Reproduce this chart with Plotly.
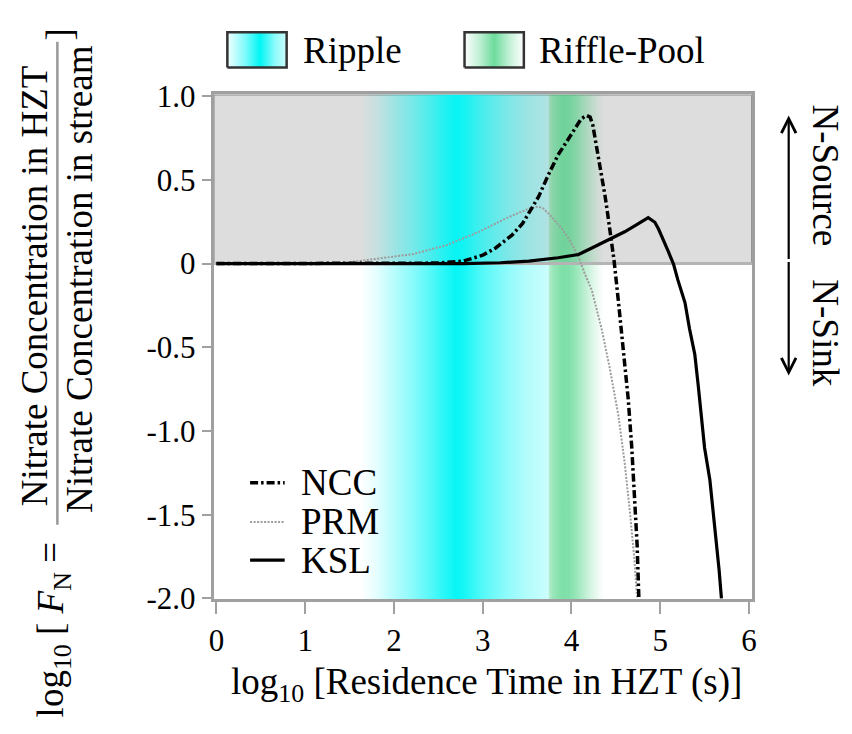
import plotly.graph_objects as go

# ---------------- data ----------------
NCC_X = [0.0, 0.5, 1.0, 1.5, 2.0, 2.5, 2.78, 2.9, 3.0, 3.15, 3.33, 3.45, 3.52, 3.63, 3.74, 3.85,
         3.96, 4.05, 4.11, 4.17, 4.21, 4.24, 4.27, 4.31, 4.34, 4.38, 4.41, 4.45, 4.48, 4.53,
         4.585, 4.64, 4.68, 4.71, 4.74, 4.76]
NCC_Y = [0.0, 0.0, 0.0, 0.0, 0.0, 0.003, 0.015, 0.035, 0.05, 0.095, 0.17, 0.24, 0.30, 0.40, 0.53, 0.65,
         0.74, 0.82, 0.865, 0.885, 0.875, 0.83, 0.74, 0.62, 0.53, 0.40, 0.29, 0.14, 0.02, -0.23,
         -0.52, -0.81, -1.10, -1.39, -1.68, -2.0]

PRM_X = [0.0, 1.0, 1.5, 1.85, 2.22, 2.59, 2.96, 3.26, 3.44, 3.55, 3.63, 3.68, 3.74, 3.89, 3.98,
         4.08, 4.15, 4.23, 4.34, 4.43, 4.53, 4.60, 4.66, 4.71, 4.74]
PRM_Y = [0.0, 0.0, 0.008, 0.03, 0.057, 0.11, 0.19, 0.27, 0.31, 0.335, 0.34, 0.33, 0.30, 0.21, 0.14,
         0.04, -0.06, -0.16, -0.39, -0.62, -0.91, -1.19, -1.49, -1.77, -2.0]

KSL_X = [0.0, 1.0, 2.0, 2.78, 3.2, 3.52, 3.85, 4.08, 4.23, 4.33, 4.45, 4.60, 4.75, 4.865, 4.94,
         4.98, 5.09, 5.15, 5.20, 5.28, 5.33, 5.39, 5.43, 5.465, 5.50, 5.56, 5.60, 5.634, 5.664, 5.69]
KSL_Y = [0.0, 0.0, 0.0, 0.0, 0.005, 0.015, 0.035, 0.054, 0.093, 0.12, 0.15, 0.19, 0.237, 0.275, 0.247,
         0.208, 0.074, -0.003, -0.099, -0.234, -0.388, -0.542, -0.735, -0.908, -1.10, -1.293, -1.485,
         -1.677, -1.831, -2.0]

SERIES_NAMES = ["NCC", "PRM", "KSL"]

# shaded residence-time bands (position -> colour strength)
RIPPLE_X = [1.63, 1.8, 2.0, 2.2, 2.4, 2.55, 2.7, 2.8, 2.95, 3.1, 3.3, 3.5, 3.745]
RIPPLE_A = [0.0, 0.1, 0.28, 0.45, 0.65, 0.82, 0.97, 0.9, 0.72, 0.58, 0.42, 0.3, 0.2]
RIFFLE_X = [3.745, 3.8, 3.9, 3.97, 4.05, 4.15, 4.25, 4.36]
RIFFLE_A = [0.35, 0.5, 0.62, 0.6, 0.5, 0.32, 0.15, 0.0]
BAND_NAMES = ["Ripple", "Riffle-Pool"]

X_TICKS = [0, 1, 2, 3, 4, 5, 6]
Y_TICKS = [1.0, 0.5, 0.0, -0.5, -1.0, -1.5, -2.0]
Y_TICK_TEXT = ["1.0", "0.5", "0", "-0.5", "-1.0", "-1.5", "-2.0"]
X_RANGE = [-0.033, 6.036]
Y_RANGE = [-2.006, 1.011]

# ---------------- style / layout ----------------
W, H = 852, 734
PL, PR, PT, PB = 211, 756, 83, 611
FONT = "Liberation Serif"
CYAN = (0, 245, 245)
GREEN = (46, 204, 113)
AX = "#a0a0a0"


def pxx(x):
    return x / W


def pyy(y):
    return 1 - y / H


def rgba(c, a):
    return "rgba(%d,%d,%d,%.3f)" % (c[0], c[1], c[2], a)


def scale(xs, al, c):
    x0, x1 = xs[0], xs[-1]
    return [[(x - x0) / (x1 - x0), rgba(c, a)] for x, a in zip(xs, al)]


fig = go.Figure()

# bands
for xs, al, c in [(RIPPLE_X, RIPPLE_A, CYAN), (RIFFLE_X, RIFFLE_A, GREEN)]:
    fig.add_trace(go.Scatter(
        x=[xs[0], xs[-1], xs[-1], xs[0], xs[0]],
        y=[Y_RANGE[0], Y_RANGE[0], Y_RANGE[1], Y_RANGE[1], Y_RANGE[0]],
        mode="lines", line=dict(width=0), fill="toself",
        fillgradient=dict(type="horizontal", colorscale=scale(xs, al, c)),
        hoverinfo="skip", showlegend=False))

# zero line
fig.add_trace(go.Scatter(x=X_RANGE, y=[0, 0], mode="lines",
                         line=dict(color="#b4b4b4", width=3),
                         hoverinfo="skip", showlegend=False))

STYLES = {
    "NCC": dict(color="black", width=3.5, dash="8px,3px,2.5px,3px"),
    "PRM": dict(color="#9c9c9c", width=2, dash="2px,1.5px"),
    "KSL": dict(color="black", width=3.2),
}
for name, xs, ys in [("PRM", PRM_X, PRM_Y), ("NCC", NCC_X, NCC_Y), ("KSL", KSL_X, KSL_Y)]:
    fig.add_trace(go.Scatter(x=xs, y=ys, mode="lines", name=name,
                             line=STYLES[name], showlegend=False))

# ----- overlay pixel subplot for legends -----
LEG_BOX = {"Ripple": (225, 285), "Riffle-Pool": (465, 525)}
BOX_T, BOX_B = 18, 55
LEG_SCALES = {
    "Ripple": [[0, rgba(CYAN, 0.05)], [0.3, rgba(CYAN, 0.5)], [0.55, rgba(CYAN, 1)],
               [0.8, rgba(CYAN, 0.45)], [1, rgba(CYAN, 0.2)]],
    "Riffle-Pool": [[0, rgba(GREEN, 0.0)], [0.25, rgba(GREEN, 0.3)], [0.5, rgba(GREEN, 0.7)],
                    [0.75, rgba(GREEN, 0.3)], [1, rgba(GREEN, 0.0)]],
}
TEXT_X = {"Ripple": 300, "Riffle-Pool": 538}
for nm in BAND_NAMES:
    x0, x1 = LEG_BOX[nm]
    fig.add_trace(go.Scatter(
        x=[x0, x1, x1, x0, x0], y=[BOX_B, BOX_B, BOX_T, BOX_T, BOX_B],
        mode="lines", line=dict(color="#333333", width=2.5), fill="toself",
        fillgradient=dict(type="horizontal", colorscale=LEG_SCALES[nm]),
        xaxis="x2", yaxis="y2", hoverinfo="skip", showlegend=False))

LEG_Y = {"NCC": 489, "PRM": 530, "KSL": 570}
for nm in SERIES_NAMES:
    fig.add_trace(go.Scatter(x=[248, 283], y=[LEG_Y[nm], LEG_Y[nm]], mode="lines",
                             line=STYLES[nm], xaxis="x2", yaxis="y2",
                             hoverinfo="skip", showlegend=False))

ann = []
f37 = dict(family=FONT, size=37, color="black")
for nm in BAND_NAMES:
    ann.append(dict(x=pxx(TEXT_X[nm]), y=pyy(37), xref="paper", yref="paper",
                    text=nm, showarrow=False, xanchor="left", yanchor="middle", font=f37))
for nm in SERIES_NAMES:
    ann.append(dict(x=pxx(297), y=pyy(LEG_Y[nm]), xref="paper", yref="paper",
                    text=nm, showarrow=False, xanchor="left", yanchor="middle", font=f37))

# x title
ann.append(dict(x=pxx(487), y=pyy(700), xref="paper", yref="paper",
                text="log<sub>10</sub> [Residence Time in HZT (s)]",
                showarrow=False, xanchor="center", yanchor="middle", font=f37))
# y title pieces
ann.append(dict(x=pxx(50), y=pyy(643), xref="paper", yref="paper", textangle=-90,
                text="log<sub>10</sub> [ <i>F</i><sub>N</sub> =",
                showarrow=False, xanchor="center", yanchor="middle", font=f37))
ann.append(dict(x=pxx(30), y=pyy(283), xref="paper", yref="paper", textangle=-90,
                text="Nitrate Concentration in HZT",
                showarrow=False, xanchor="center", yanchor="middle", font=f37))
ann.append(dict(x=pxx(76), y=pyy(276), xref="paper", yref="paper", textangle=-90,
                text="Nitrate Concentration in stream",
                showarrow=False, xanchor="center", yanchor="middle", font=f37))
ann.append(dict(x=pxx(55), y=pyy(20), xref="paper", yref="paper", textangle=-90,
                text="]", showarrow=False, xanchor="center", yanchor="middle", font=f37))
# right side
ann.append(dict(x=pxx(830), y=pyy(168), xref="paper", yref="paper", textangle=90,
                text="N-Source", showarrow=False, xanchor="center", yanchor="middle", font=f37))
ann.append(dict(x=pxx(830), y=pyy(332), xref="paper", yref="paper", textangle=90,
                text="N-Sink", showarrow=False, xanchor="center", yanchor="middle", font=f37))
ann.append(dict(x=pxx(793), y=pyy(105), xref="paper", yref="paper", text="",
                showarrow=True, ax=0, ay=145, arrowhead=5, arrowsize=1.3,
                arrowwidth=2.2, arrowcolor="black"))
ann.append(dict(x=pxx(793), y=pyy(377), xref="paper", yref="paper", text="",
                showarrow=True, ax=0, ay=-115, arrowhead=5, arrowsize=1.3,
                arrowwidth=2.2, arrowcolor="black"))

shapes = [
    dict(type="rect", xref="x domain", x0=0, x1=1, yref="y", y0=0, y1=Y_RANGE[1],
         fillcolor="#dddddd", line=dict(color="#8a8a8a", width=2), layer="below"),
    dict(type="line", xref="paper", yref="paper", x0=pxx(53), x1=pxx(53),
         y0=pyy(28), y1=pyy(533), line=dict(color="#999999", width=2.5)),
]

tickfont = dict(family=FONT, size=31, color="black")
fig.update_layout(
    width=W, height=H, margin=dict(l=0, r=0, t=0, b=0),
    paper_bgcolor="white", plot_bgcolor="rgba(0,0,0,0)",
    showlegend=False,
    xaxis=dict(domain=[pxx(PL), pxx(PR)], range=X_RANGE, tickvals=X_TICKS,
               ticktext=[str(v) for v in X_TICKS], ticks="outside", ticklen=12,
               tickwidth=2, tickcolor=AX, showline=True, linecolor=AX, linewidth=2.5,
               mirror=True, showgrid=False, zeroline=False, tickfont=tickfont),
    yaxis=dict(domain=[pyy(PB), pyy(PT)], range=Y_RANGE, tickvals=Y_TICKS,
               ticktext=Y_TICK_TEXT, ticks="outside", ticklen=9, tickwidth=2,
               tickcolor=AX, showline=True, linecolor=AX, linewidth=2.5, mirror=True,
               showgrid=False, zeroline=False, tickfont=tickfont),
    xaxis2=dict(domain=[0, 1], range=[0, W], visible=False, anchor="y2"),
    yaxis2=dict(domain=[0, 1], range=[H, 0], visible=False, anchor="x2"),
    annotations=ann, shapes=shapes,
)

fig.write_html("out.html")
